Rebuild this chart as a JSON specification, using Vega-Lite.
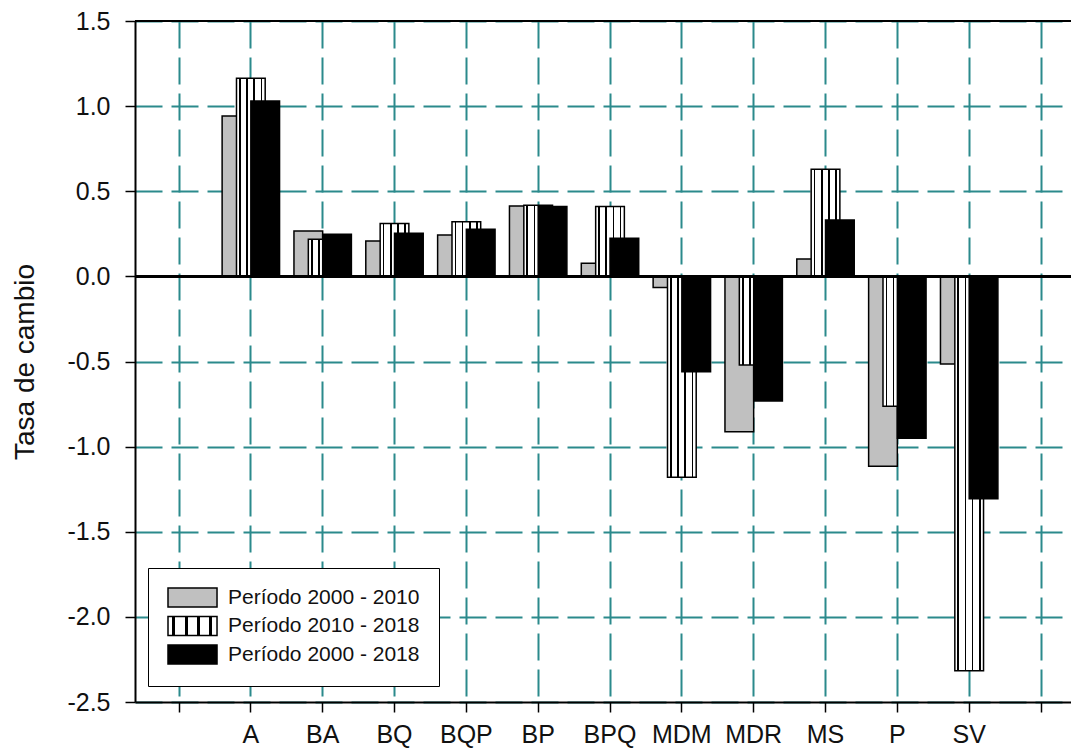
{
  "$schema": "https://vega.github.io/schema/vega-lite/v6.json",
  "width": 936,
  "height": 681,
  "autosize": {"type": "none"},
  "padding": {"left": 135, "top": 21, "right": 0, "bottom": 49},
  "background": "white",
  "config": {"view": {"stroke": null}, "font": "Liberation Sans"},
  "data": {
    "values": [
      {"categoria": "A", "periodo": "Período 2000 - 2010", "tasa": 0.942},
      {"categoria": "BA", "periodo": "Período 2000 - 2010", "tasa": 0.267},
      {"categoria": "BQ", "periodo": "Período 2000 - 2010", "tasa": 0.208},
      {"categoria": "BQP", "periodo": "Período 2000 - 2010", "tasa": 0.243},
      {"categoria": "BP", "periodo": "Período 2000 - 2010", "tasa": 0.413},
      {"categoria": "BPQ", "periodo": "Período 2000 - 2010", "tasa": 0.077},
      {"categoria": "MDM", "periodo": "Período 2000 - 2010", "tasa": -0.066},
      {"categoria": "MDR", "periodo": "Período 2000 - 2010", "tasa": -0.912},
      {"categoria": "MS", "periodo": "Período 2000 - 2010", "tasa": 0.102},
      {"categoria": "P", "periodo": "Período 2000 - 2010", "tasa": -1.116},
      {"categoria": "SV", "periodo": "Período 2000 - 2010", "tasa": -0.515},
      {"categoria": "A", "periodo": "Período 2010 - 2018", "tasa": 1.164},
      {"categoria": "BA", "periodo": "Período 2010 - 2018", "tasa": 0.218},
      {"categoria": "BQ", "periodo": "Período 2010 - 2018", "tasa": 0.31},
      {"categoria": "BQP", "periodo": "Período 2010 - 2018", "tasa": 0.321},
      {"categoria": "BP", "periodo": "Período 2010 - 2018", "tasa": 0.418},
      {"categoria": "BPQ", "periodo": "Período 2010 - 2018", "tasa": 0.41},
      {"categoria": "MDM", "periodo": "Período 2010 - 2018", "tasa": -1.18},
      {"categoria": "MDR", "periodo": "Período 2010 - 2018", "tasa": -0.52},
      {"categoria": "MS", "periodo": "Período 2010 - 2018", "tasa": 0.629},
      {"categoria": "P", "periodo": "Período 2010 - 2018", "tasa": -0.763},
      {"categoria": "SV", "periodo": "Período 2010 - 2018", "tasa": -2.316},
      {"categoria": "A", "periodo": "Período 2000 - 2018", "tasa": 1.03},
      {"categoria": "BA", "periodo": "Período 2000 - 2018", "tasa": 0.247},
      {"categoria": "BQ", "periodo": "Período 2000 - 2018", "tasa": 0.253},
      {"categoria": "BQP", "periodo": "Período 2000 - 2018", "tasa": 0.277},
      {"categoria": "BP", "periodo": "Período 2000 - 2018", "tasa": 0.41},
      {"categoria": "BPQ", "periodo": "Período 2000 - 2018", "tasa": 0.224},
      {"categoria": "MDM", "periodo": "Período 2000 - 2018", "tasa": -0.56},
      {"categoria": "MDR", "periodo": "Período 2000 - 2018", "tasa": -0.732},
      {"categoria": "MS", "periodo": "Período 2000 - 2018", "tasa": 0.331},
      {"categoria": "P", "periodo": "Período 2000 - 2018", "tasa": -0.951},
      {"categoria": "SV", "periodo": "Período 2000 - 2018", "tasa": -1.306}
    ]
  },
  "layer": [
    {
      "mark": {"type": "bar", "stroke": "black", "strokeWidth": 1.5, "width": 28.7},
      "encoding": {
        "x": {
          "field": "categoria",
          "type": "nominal",
          "scale": {
            "domain": ["_L", "A", "BA", "BQ", "BQP", "BP", "BPQ", "MDM", "MDR", "MS", "P", "SV", "_R"],
            "paddingInner": 0.4,
            "paddingOuter": 0.215,
            "align": 0.727,
            "round": false
          },
          "axis": {
            "title": null,
            "labelExpr": "indexof(datum.label, '_') === 0 ? '' : datum.label",
            "labelAngle": 0,
            "labelFontSize": 25,
            "labelColor": "#111111",
            "labelPadding": 10,
            "labelOverlap": false,
            "tickSize": 10,
            "tickColor": "black",
            "tickWidth": 1.5,
            "domainColor": "black",
            "domainWidth": 2,
            "grid": true,
            "gridColor": "#2b8a8c",
            "gridDash": [27, 9],
            "gridWidth": 2,
            "gridOpacity": 1,
            "bandPosition": 0.5
          }
        },
        "xOffset": {
          "field": "periodo",
          "type": "nominal",
          "scale": {
            "domain": ["Período 2000 - 2010", "Período 2010 - 2018", "Período 2000 - 2018"],
            "paddingInner": 0,
            "paddingOuter": 0
          }
        },
        "y": {
          "field": "tasa",
          "type": "quantitative",
          "scale": {"domain": [-2.5, 1.5], "nice": false, "zero": false},
          "axis": {
            "values": [-2.5, -2, -1.5, -1, -0.5, 0, 0.5, 1, 1.5],
            "labelExpr": "replace(format(datum.value, '.1f'), '\u2212', '-')",
            "title": "Tasa de cambio",
            "titleFontSize": 28,
            "titleFontWeight": "normal",
            "titleColor": "#111111",
            "titlePadding": 27,
            "labelFontSize": 25,
            "labelColor": "#111111",
            "labelPadding": 15,
            "tickSize": 10,
            "tickColor": "black",
            "tickWidth": 1.5,
            "domainColor": "black",
            "domainWidth": 2,
            "grid": true,
            "gridColor": "#2b8a8c",
            "gridDash": [27, 9],
            "gridWidth": 2,
            "gridOpacity": 1
          }
        },
        "fill": {
          "field": "periodo",
          "type": "nominal",
          "scale": {
            "domain": ["Período 2000 - 2010", "Período 2010 - 2018", "Período 2000 - 2018"],
            "range": [
              "#c0c0c0",
              {"expr": "{gradient: 'linear', x1: 0, y1: 0, x2: 1, y2: 0, stops: [{offset: 0, color: '#ffffff'}, {offset: 0.09, color: '#ffffff'}, {offset: 0.09, color: '#000000'}, {offset: 0.15, color: '#000000'}, {offset: 0.15, color: '#ffffff'}, {offset: 0.34, color: '#ffffff'}, {offset: 0.34, color: '#000000'}, {offset: 0.40, color: '#000000'}, {offset: 0.40, color: '#ffffff'}, {offset: 0.59, color: '#ffffff'}, {offset: 0.59, color: '#000000'}, {offset: 0.65, color: '#000000'}, {offset: 0.65, color: '#ffffff'}, {offset: 0.84, color: '#ffffff'}, {offset: 0.84, color: '#000000'}, {offset: 0.90, color: '#000000'}, {offset: 0.90, color: '#ffffff'}, {offset: 1, color: '#ffffff'}]}"},
              "#000000"
            ]
          },
          "legend": {
            "title": null,
            "orient": "none",
            "legendX": 13,
            "legendY": 547,
            "strokeColor": "black",
            "fillColor": "white",
            "padding": 19,
            "symbolType": "M-1,-1H4.16V1H-1Z",
            "symbolSize": 361,
            "symbolStrokeColor": "black",
            "symbolStrokeWidth": 1.5,
            "symbolOpacity": 1,
            "labelFontSize": 21,
            "labelColor": "#111111",
            "labelOffset": 40,
            "labelLimit": 400,
            "rowPadding": 3.5
          }
        }
      }
    },
    {
      "mark": {"type": "rule", "color": "black", "strokeWidth": 2},
      "encoding": {"y": {"datum": 0}}
    },
    {
      "mark": {"type": "rule", "color": "black", "strokeWidth": 2},
      "encoding": {"y": {"datum": 1.5}}
    }
  ]
}
